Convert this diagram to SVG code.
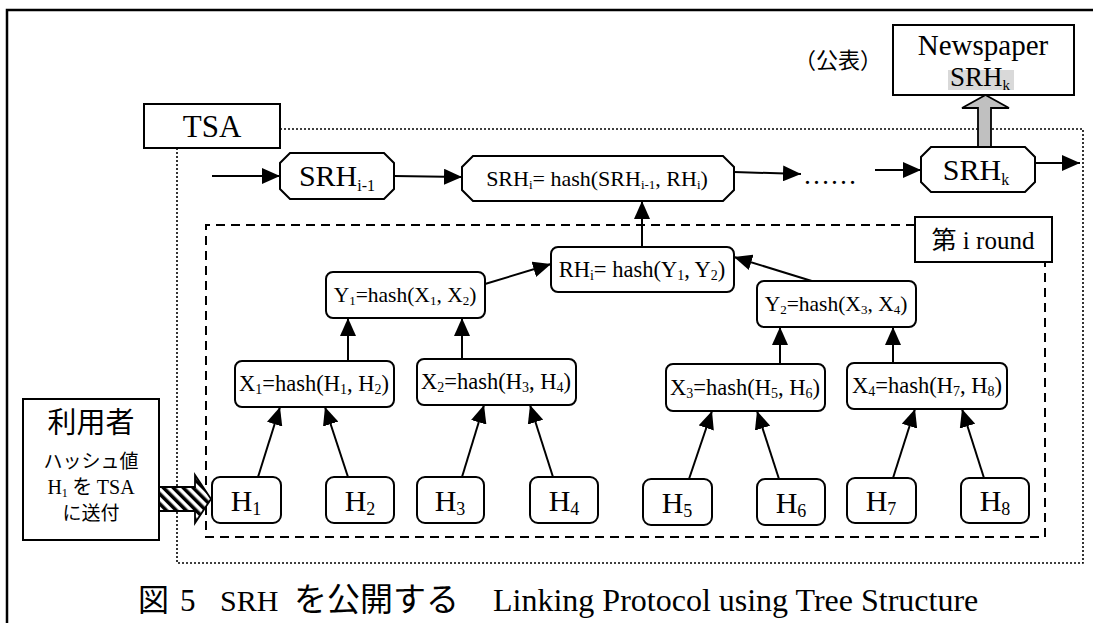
<svg xmlns="http://www.w3.org/2000/svg" width="1093" height="623" viewBox="0 0 1093 623">
  <style>
    .frame { fill: none; stroke: #000; stroke-width: 2.5; }
    .box { fill: #fff; stroke: #000; stroke-width: 2; }
    .node { fill: #fff; stroke: #000; stroke-width: 2; }
    .dotted { fill: none; stroke: #000; stroke-width: 1.6; stroke-dasharray: 2 2; }
    .dashed { fill: none; stroke: #000; stroke-width: 2; stroke-dasharray: 9 6; }
    .link { fill: none; stroke: #000; stroke-width: 2; marker-end: url(#head); }
    .serif { font-family: "Liberation Serif", "Times New Roman", serif; fill: #000; }
    .jp { font-family: "Noto Sans CJK JP", "Noto Sans", sans-serif; fill: #000; }
    .mid { text-anchor: middle; }
  </style>
  <defs>
    <marker id="head" viewBox="0 0 18 16" refX="18" refY="8" markerWidth="18" markerHeight="16" markerUnits="userSpaceOnUse" orient="auto">
      <path d="M0,0 L18,8 L0,16 Z" fill="#000"/>
    </marker>
    <pattern id="hatch" width="7" height="7" patternUnits="userSpaceOnUse" patternTransform="rotate(-45)">
      <rect x="0" y="0" width="7" height="7" fill="#fff"/>
      <rect x="0" y="0" width="3.5" height="7" fill="#000"/>
    </pattern>
  </defs>

  <!-- page frame (top and left edges) -->
  <path class="frame" d="M7,623 V10 H1093"/>

  <!-- TSA boundary -->
  <path class="dotted" d="M280,129 H1083 V563 H177 V148"/>
  <!-- round boundary -->
  <path class="dashed" d="M915,225 H206 V537 H1045 V262"/>

  <!-- connectors -->
  <g id="connectors">
    <line class="link" x1="212" y1="176" x2="280" y2="176"/>
    <line class="link" x1="394" y1="176" x2="462" y2="177"/>
    <line class="link" x1="734" y1="172" x2="801" y2="174"/>
    <line class="link" x1="875" y1="170" x2="921" y2="170"/>
    <line class="link" x1="1035" y1="163" x2="1080" y2="163"/>
    <line class="link" x1="642" y1="247" x2="642" y2="201"/>
    <line class="link" x1="485" y1="284" x2="551" y2="264"/>
    <line class="link" x1="815" y1="282" x2="734" y2="257"/>
    <line class="link" x1="348" y1="361" x2="348" y2="318"/>
    <line class="link" x1="462" y1="359" x2="462" y2="318"/>
    <line class="link" x1="780" y1="364" x2="780" y2="327"/>
    <line class="link" x1="893" y1="363" x2="893" y2="327"/>
    <line class="link" x1="258" y1="477" x2="280" y2="407"/>
    <line class="link" x1="348" y1="477" x2="325" y2="407"/>
    <line class="link" x1="462" y1="477" x2="484" y2="405"/>
    <line class="link" x1="553" y1="477" x2="530" y2="405"/>
    <line class="link" x1="689" y1="479" x2="712" y2="411"/>
    <line class="link" x1="779" y1="479" x2="757" y2="411"/>
    <line class="link" x1="893" y1="478" x2="915" y2="409"/>
    <line class="link" x1="984" y1="478" x2="962" y2="409"/>
    <!-- publication arrow -->
    <path d="M978,147 V108 H962 L985.5,95 L1009,108 H991 V147 Z" fill="#c0c0c0" stroke="#000" stroke-width="1.8"/>
    <!-- submission arrow -->
    <path d="M159,487 H195 V475 L211,499 L195,523 V511 H159 Z" fill="url(#hatch)" stroke="#000" stroke-width="1.8"/>
  </g>

  <!-- ellipsis between rounds -->
  <text class="serif" x="803" y="184" font-size="27">……</text>

  <g id="newspaper">
    <rect class="box" x="893" y="25" width="181" height="70"/>
    <rect x="948" y="70" width="66" height="20" fill="#d9d9d9"/>
    <text class="serif mid" x="983" y="55" font-size="29">Newspaper</text>
    <text class="serif mid" x="980" y="86" font-size="27">SRH<tspan font-size="15" dy="4">k</tspan></text>
  </g>
  <text class="jp" x="794" y="68" font-size="22">（公表）</text>

  <g id="tsa">
    <rect class="box" x="144" y="104" width="136" height="44"/>
    <text class="serif mid" x="212" y="137" font-size="31">TSA</text>
  </g>

  <g id="srh-prev">
    <path class="node" d="M290,153 H384 L394,163 V189 L384,199 H290 L280,189 V163 Z"/>
    <text class="serif mid" x="337" y="186" font-size="30">SRH<tspan font-size="16" dy="5">i-1</tspan></text>
  </g>

  <g id="srh-i">
    <path class="node" d="M473,156 H723 L734,167 V190 L723,201 H473 L462,190 V167 Z"/>
    <text class="serif mid" x="597" y="186" font-size="22">SRH<tspan font-size="13" dy="3">i</tspan><tspan dy="-3">= hash(SRH</tspan><tspan font-size="13" dy="3">i-1</tspan><tspan dy="-3">, RH</tspan><tspan font-size="13" dy="3">i</tspan><tspan dy="-3">)</tspan></text>
  </g>

  <g id="srh-k">
    <path class="node" d="M931,147 H1025 L1035,157 V182 L1025,192 H931 L921,182 V157 Z"/>
    <text class="serif mid" x="976" y="180" font-size="30">SRH<tspan font-size="16" dy="5">k</tspan></text>
  </g>

  <g id="round-label">
    <rect class="box" x="915" y="217" width="137" height="45"/>
    <text x="983" y="249" font-size="25" class="mid"><tspan class="jp">第</tspan><tspan class="serif"> i round</tspan></text>
  </g>

  <g id="rh">
    <rect class="node" x="551" y="247" width="183" height="45" rx="7"/>
    <text class="serif mid" x="642" y="277" font-size="22.5">RH<tspan font-size="14" dy="3">i</tspan><tspan dy="-3">= hash(Y</tspan><tspan font-size="14" dy="3">1</tspan><tspan dy="-3">, Y</tspan><tspan font-size="14" dy="3">2</tspan><tspan dy="-3">)</tspan></text>
  </g>

  <g id="y1">
    <rect class="node" x="326" y="272" width="159" height="46" rx="7"/>
    <text class="serif mid" x="405" y="302" font-size="21.5">Y<tspan font-size="13" dy="3">1</tspan><tspan dy="-3">=hash(X</tspan><tspan font-size="13" dy="3">1</tspan><tspan dy="-3">, X</tspan><tspan font-size="13" dy="3">2</tspan><tspan dy="-3">)</tspan></text>
  </g>

  <g id="y2">
    <rect class="node" x="757" y="281" width="159" height="46" rx="7"/>
    <text class="serif mid" x="836" y="311" font-size="21.5">Y<tspan font-size="13" dy="3">2</tspan><tspan dy="-3">=hash(X</tspan><tspan font-size="13" dy="3">3</tspan><tspan dy="-3">, X</tspan><tspan font-size="13" dy="3">4</tspan><tspan dy="-3">)</tspan></text>
  </g>

  <g id="x1">
    <rect class="node" x="235" y="361" width="159" height="46" rx="7"/>
    <text class="serif mid" x="314" y="391" font-size="22.5">X<tspan font-size="14" dy="3">1</tspan><tspan dy="-3">=hash(H</tspan><tspan font-size="14" dy="3">1</tspan><tspan dy="-3">, H</tspan><tspan font-size="14" dy="3">2</tspan><tspan dy="-3">)</tspan></text>
  </g>

  <g id="x2">
    <rect class="node" x="417" y="359" width="159" height="46" rx="7"/>
    <text class="serif mid" x="496" y="389" font-size="22.5">X<tspan font-size="14" dy="3">2</tspan><tspan dy="-3">=hash(H</tspan><tspan font-size="14" dy="3">3</tspan><tspan dy="-3">, H</tspan><tspan font-size="14" dy="3">4</tspan><tspan dy="-3">)</tspan></text>
  </g>

  <g id="x3">
    <rect class="node" x="666" y="364" width="159" height="47" rx="7"/>
    <text class="serif mid" x="745" y="395" font-size="22.5">X<tspan font-size="14" dy="3">3</tspan><tspan dy="-3">=hash(H</tspan><tspan font-size="14" dy="3">5</tspan><tspan dy="-3">, H</tspan><tspan font-size="14" dy="3">6</tspan><tspan dy="-3">)</tspan></text>
  </g>

  <g id="x4">
    <rect class="node" x="847" y="363" width="160" height="46" rx="7"/>
    <text class="serif mid" x="927" y="393" font-size="22.5">X<tspan font-size="14" dy="3">4</tspan><tspan dy="-3">=hash(H</tspan><tspan font-size="14" dy="3">7</tspan><tspan dy="-3">, H</tspan><tspan font-size="14" dy="3">8</tspan><tspan dy="-3">)</tspan></text>
  </g>

  <!-- leaf hashes -->
  <g id="h1">
    <rect class="node" x="212" y="477" width="69" height="46" rx="8"/>
    <text class="serif mid" x="246" y="511" font-size="30">H<tspan font-size="18" dy="4">1</tspan></text>
  </g>
  <g id="h2">
    <rect class="node" x="326" y="477" width="68" height="46" rx="8"/>
    <text class="serif mid" x="360" y="511" font-size="30">H<tspan font-size="18" dy="4">2</tspan></text>
  </g>
  <g id="h3">
    <rect class="node" x="417" y="477" width="67" height="46" rx="8"/>
    <text class="serif mid" x="450" y="511" font-size="30">H<tspan font-size="18" dy="4">3</tspan></text>
  </g>
  <g id="h4">
    <rect class="node" x="530" y="477" width="68" height="46" rx="8"/>
    <text class="serif mid" x="564" y="511" font-size="30">H<tspan font-size="18" dy="4">4</tspan></text>
  </g>
  <g id="h5">
    <rect class="node" x="643" y="479" width="69" height="46" rx="8"/>
    <text class="serif mid" x="677" y="513" font-size="30">H<tspan font-size="18" dy="4">5</tspan></text>
  </g>
  <g id="h6">
    <rect class="node" x="757" y="479" width="68" height="46" rx="8"/>
    <text class="serif mid" x="791" y="513" font-size="30">H<tspan font-size="18" dy="4">6</tspan></text>
  </g>
  <g id="h7">
    <rect class="node" x="847" y="478" width="69" height="45" rx="8"/>
    <text class="serif mid" x="881" y="511" font-size="30">H<tspan font-size="18" dy="4">7</tspan></text>
  </g>
  <g id="h8">
    <rect class="node" x="961" y="478" width="68" height="45" rx="8"/>
    <text class="serif mid" x="995" y="511" font-size="30">H<tspan font-size="18" dy="4">8</tspan></text>
  </g>

  <g id="user">
    <rect class="box" x="23" y="399" width="136" height="141"/>
    <text class="jp mid" x="91" y="433" font-size="29">利用者</text>
    <text class="jp mid" x="91" y="468" font-size="19">ハッシュ値</text>
    <text class="mid" x="91" y="494" font-size="20"><tspan class="serif">H</tspan><tspan class="serif" font-size="12" dy="3">1</tspan><tspan class="jp" dy="-3"> を </tspan><tspan class="serif">TSA</tspan></text>
    <text class="jp mid" x="91" y="520" font-size="19">に送付</text>
  </g>

  <!-- caption -->
  <text y="611" font-size="31"><tspan class="jp" x="138">図</tspan><tspan class="serif" x="180">5</tspan><tspan class="serif" x="220" font-size="30">SRH</tspan><tspan class="jp" x="294" font-size="33">を公開する</tspan><tspan class="serif" x="493" font-size="32">Linking Protocol using Tree Structure</tspan></text>
</svg>
